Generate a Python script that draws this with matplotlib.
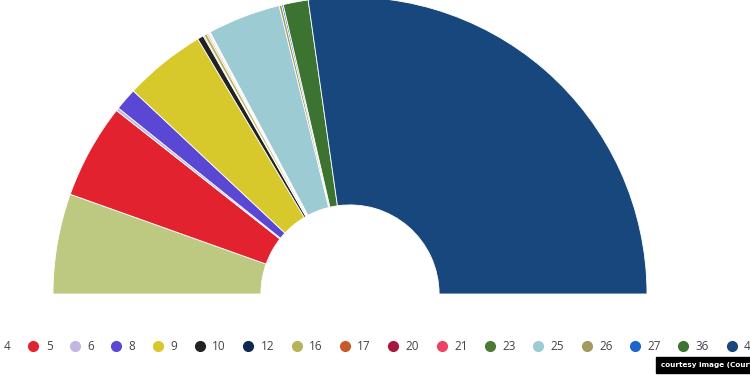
import matplotlib
matplotlib.use('Agg')
import matplotlib.pyplot as plt
from matplotlib.lines import Line2D

# party numbers, share of the vote (%) and colours
parties = ['4', '5', '6', '8', '9', '10', '12', '16', '17',
           '20', '21', '23', '25', '26', '27', '36', '41']
shares = [10.9, 10.3, 0.33, 2.44, 8.9, 0.67, 0.11, 0.33, 0.14,
          0.08, 0.11, 0.08, 7.94, 0.28, 0.17, 2.72, 54.5]
colors = ['#bdc880', '#e2222f', '#c4b6e2', '#5a48d4', '#d7c92b', '#222222',
          '#10284f', '#b6b55c', '#c65a2a', '#a5173f', '#ef4262', '#4b7a36',
          '#9dcbd3', '#a39a5e', '#1b66c8', '#3d7331', '#17477c']

fig = plt.figure(figsize=(7.5, 3.75), dpi=100)
fig.patch.set_facecolor('white')

# half donut: centre at (350, 294) px, outer radius 297 px
R = 297
ax = fig.add_axes([(350 - R) / 750, (375 - 294 - R) / 375, 2 * R / 750, 2 * R / 375])
# second half of the pie is hidden, so the parties fill the top 180 degrees
wedges, _ = ax.pie(shares + [sum(shares)], colors=colors + ['none'],
                   startangle=180, counterclock=False, radius=1,
                   wedgeprops=dict(width=0.70, edgecolor='white', linewidth=0.6))
wedges[-1].set_edgecolor('none')
ax.set_xlim(-1, 1)
ax.set_ylim(-1, 1)
ax.set_aspect('equal')
ax.axis('off')

handles = [Line2D([], [], marker='o', linestyle='none', markersize=7,
                  markerfacecolor=c, markeredgecolor=c) for c in colors]
leg = fig.legend(handles, parties, loc='center left', ncol=len(parties),
                 bbox_to_anchor=(-13 / 750, 1 - 347 / 375), frameon=False,
                 prop={'family': 'Open Sans', 'size': 8.5},
                 handlelength=0.8, handletextpad=0.65,
                 columnspacing=1.5, borderpad=0, borderaxespad=0)
for t in leg.get_texts():
    t.set_color('#444444')

fig.text(661 / 750, 1 - 365 / 375, 'courtesy image (Courtesy)', color='white',
         fontsize=5.2, fontweight='bold', va='center', ha='left',
         bbox=dict(facecolor='black', edgecolor='black', pad=3.5))

fig.savefig('out.png', dpi=100)
